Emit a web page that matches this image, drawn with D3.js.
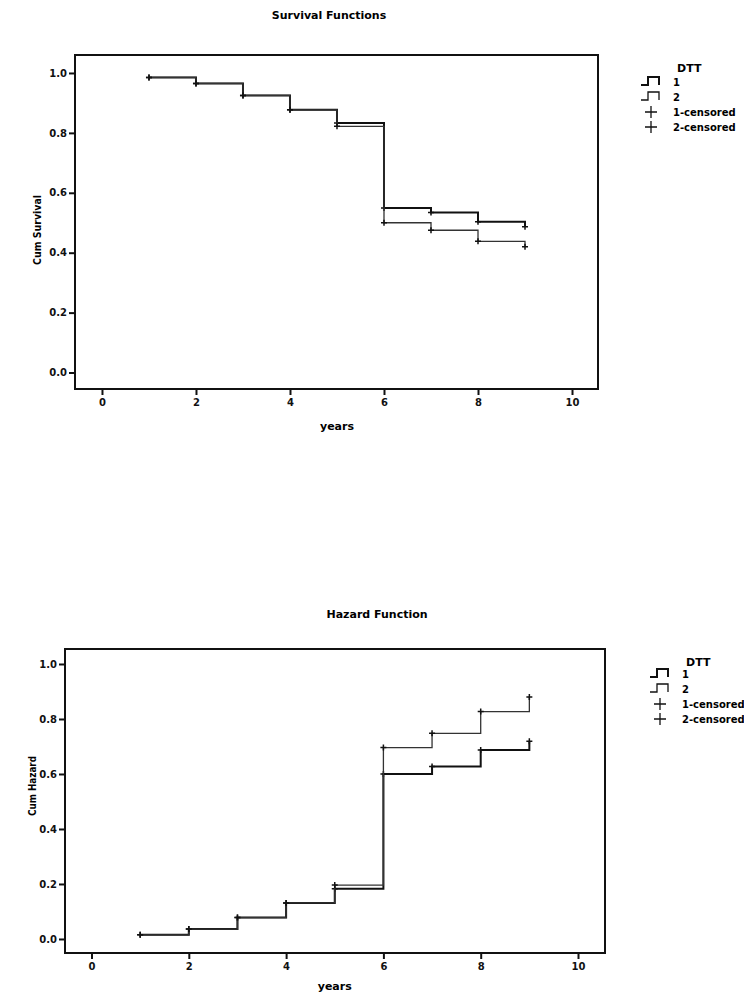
<!DOCTYPE html>
<html>
<head>
<meta charset="utf-8">
<script src="https://cdnjs.cloudflare.com/ajax/libs/d3/7.8.5/d3.min.js"></script>
<style>
  body { margin: 0; background: #fff; }
  svg { display: block; font-family: "DejaVu Sans", "Liberation Sans", Arial, sans-serif; font-weight: bold; }
</style>
</head>
<body>
<div id="chart"></div>
<script>
// event times (years) and the step values
var times = [1, 2, 3, 4, 5, 6, 7, 8, 9];
var survival1 = [0.985, 0.965, 0.925, 0.877, 0.833, 0.549, 0.534, 0.503, 0.487];
var survival2 = [0.985, 0.965, 0.925, 0.877, 0.822, 0.500, 0.475, 0.438, 0.420];
var hazard1 = [0.015, 0.036, 0.078, 0.131, 0.183, 0.600, 0.627, 0.687, 0.719];
var hazard2 = [0.015, 0.036, 0.078, 0.131, 0.196, 0.696, 0.748, 0.827, 0.880];
var xTicks = [0, 2, 4, 6, 8, 10];
var yTicks = [0.0, 0.2, 0.4, 0.6, 0.8, 1.0];
var groups = ["1", "2"];
var censorLabels = ["1-censored", "2-censored"];
var legendTitle = "DTT";

var W = 744, H = 995;

var svg = d3.select("#chart").append("svg")
    .attr("width", W)
    .attr("height", H);

function drawPanel(p) {
    var g = svg.append("g");

    var x = d3.scaleLinear().domain(p.xDomain).range([p.left, p.right]);
    var y = d3.scaleLinear().domain(p.yDomain).range([p.bottom, p.top]);

    // frame
    g.append("rect")
        .attr("x", p.left).attr("y", p.top)
        .attr("width", p.right - p.left).attr("height", p.bottom - p.top)
        .attr("fill", "none").attr("stroke", "#111").attr("stroke-width", 2);

    // axes
    var xAxis = g.append("g")
        .attr("transform", "translate(0," + p.bottom + ")")
        .call(d3.axisBottom(x).tickValues(xTicks).tickSize(6).tickPadding(4).tickFormat(d3.format("d")));
    var yAxis = g.append("g")
        .attr("transform", "translate(" + p.left + ",0)")
        .call(d3.axisLeft(y).tickValues(yTicks).tickSize(6).tickPadding(2).tickFormat(d3.format(".1f")));
    [xAxis, yAxis].forEach(function(a) {
        a.select(".domain").remove();
        a.selectAll("line").attr("stroke", "#111").attr("stroke-width", 2);
        a.selectAll("text").attr("fill", "#111").attr("font-size", 10)
            .attr("font-weight", "bold").attr("font-family", "DejaVu Sans, sans-serif");
    });

    // step lines
    var line = d3.line()
        .x(function(d, i) { return x(times[i]); })
        .y(function(d) { return y(d); })
        .curve(d3.curveStepAfter);

    p.series.forEach(function(s, k) {
        g.append("path")
            .datum(s)
            .attr("fill", "none")
            .attr("stroke", k == 0 ? "#111" : "#333")
            .attr("stroke-width", k == 0 ? 2 : 1.3)
            .attr("d", line);
        // censored marks
        g.selectAll(null).data(s).enter().append("path")
            .attr("d", function(d, i) {
                var cx = x(times[i]), cy = y(d);
                return "M" + (cx - 3) + "," + cy + "H" + (cx + 3) + "M" + cx + "," + (cy - 3) + "V" + (cy + 3);
            })
            .attr("stroke", "#111").attr("stroke-width", 1.5);
    });

    // titles
    g.append("text")
        .attr("x", p.titleX).attr("y", p.titleY)
        .attr("text-anchor", "middle").attr("font-size", 11)
        .text(p.title);
    g.append("text")
        .attr("x", (x(0) + x(10)) / 2).attr("y", p.xLabelY)
        .attr("text-anchor", "middle").attr("font-size", 11)
        .text("years");
    g.append("text")
        .attr("transform", "translate(" + p.yLabelX + "," + p.yLabelY + ") rotate(-90)")
        .attr("text-anchor", "middle").attr("font-size", 10)
        .attr("textLength", p.yLabelLen).attr("lengthAdjust", "spacingAndGlyphs")
        .text(p.yLabel);

    // legend
    var lg = g.append("g").attr("transform", "translate(" + p.legendX + "," + p.legendY + ")");
    lg.append("text").attr("x", 36).attr("y", 0).attr("font-size", 11).text(legendTitle);
    groups.forEach(function(name, k) {
        var yy = p.legendGap + k * 15;
        lg.append("path")
            .attr("d", "M0," + (yy - 1) + "H7V" + (yy - 9) + "H18V" + (yy - 1))
            .attr("fill", "none").attr("stroke", "#111").attr("stroke-width", k == 0 ? 2 : 1.3);
        lg.append("text").attr("x", 32).attr("y", yy).attr("font-size", 10).text(name);
    });
    censorLabels.forEach(function(name, k) {
        var yy = p.legendGap + 30 + k * 15;
        lg.append("path")
            .attr("d", "M4," + (yy - 4) + "H16M10," + (yy - 10) + "V" + (yy + 2))
            .attr("stroke", "#111").attr("stroke-width", 1.3);
        lg.append("text").attr("x", 32).attr("y", yy).attr("font-size", 10).text(name);
    });
}

drawPanel({
    left: 75, right: 598, top: 55, bottom: 389,
    xDomain: [-0.574, 10.553], yDomain: [-0.055, 1.060],
    series: [survival1, survival2],
    title: "Survival Functions", titleX: 329, titleY: 19,
    xLabelY: 430,
    yLabel: "Cum Survival", yLabelX: 41, yLabelY: 230, yLabelLen: 70,
    legendX: 641, legendY: 72, legendGap: 14
});

drawPanel({
    left: 65, right: 605, top: 649, bottom: 953,
    xDomain: [-0.545, 10.555], yDomain: [-0.051, 1.0545],
    series: [hazard1, hazard2],
    title: "Hazard Function", titleX: 377, titleY: 618,
    xLabelY: 990,
    yLabel: "Cum Hazard", yLabelX: 36, yLabelY: 786, yLabelLen: 60,
    legendX: 650, legendY: 666, legendGap: 12
});
</script>
</body>
</html>
